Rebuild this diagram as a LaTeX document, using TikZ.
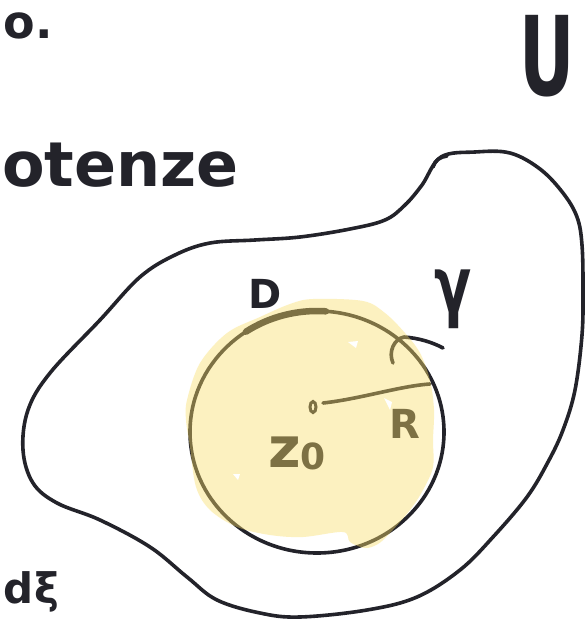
\documentclass[tikz,border=0pt]{standalone}
\usepackage{fontspec}
\setmainfont{DejaVu Sans}
\definecolor{ink}{RGB}{35,35,42}
\definecolor{hl}{RGB}{250,222,105}
\begin{document}
\begin{tikzpicture}[x=1pt,y=-1pt,
  pen/.style={draw=ink,line width=3.6pt,line cap=round,line join=round},
  hand/.style={text=ink,inner sep=0pt,outer sep=0pt},
  marker/.style={fill=hl,fill opacity=0.42,draw=none},
  speck/.style={fill=white,draw=none}]
\useasboundingbox (0,0) rectangle (584,621);
\fill[white] (0,0) rectangle (584,621);
% outer region U
\draw[pen] plot[smooth cycle,tension=0.6] coordinates {
 (441,157) (475,152) (510,153) (540,169) (563,193) (577,217) (582,245)
 (583,290) (582,335) (575,390) (563,430) (548,462) (527,497) (493,537)
 (460,570) (417,597) (367,610) (300,617) (260,613) (217,600) (187,577)
 (150,547) (100,520) (57,503) (33,483) (23,450) (28,410) (50,373)
 (100,320) (140,277) (175,255) (210,243) (255,240) (300,237) (350,229)
 (385,220) (405,205) (422,185) };
\draw[pen] (433,167) .. controls (435,160) and (440,157) .. (447,156);
% disc boundary gamma
\coordinate (c) at (317,432);
\draw[pen] (c) ellipse [x radius=127pt, y radius=121pt];
\draw[draw=ink,line width=6.5pt,line cap=round] (c) ++(124:127pt and 121pt)
  arc[start angle=124,end angle=86,x radius=127pt,y radius=121pt];
% small r-hook
\draw[pen] (393,363) .. controls (388,352) and (394,339) .. (404,337)
  .. controls (418,338) and (432,342) .. (443,348);
% centre and radius
\draw[draw=ink,line width=3pt] (313,407) ellipse [x radius=3pt, y radius=5.5pt];
\draw[pen] (323,403) .. controls (360,399) and (400,386) .. (430,384);
% labels
\node[hand,anchor=base west,font=\bfseries\fontsize{46}{46}\selectfont] (tl) at (4,38) {o.};
\node[hand,anchor=base west,font=\bfseries\fontsize{62}{62}\selectfont] (pot) at (2,186) {otenze};
\node[hand,anchor=base,font=\bfseries\fontsize{110}{110}\selectfont,xscale=0.62] (U) at (547,95) {U};
\node[hand,anchor=base west,font=\bfseries\fontsize{42}{42}\selectfont] (dx) at (4,603) {dξ};
\node[hand,anchor=base,font=\bfseries\fontsize{40}{40}\selectfont] (D) at (265,308) {D};
\node[hand,anchor=base,font=\bfseries\fontsize{78}{78}\selectfont,xscale=0.7] (g) at (453,312) {γ};
\node[hand,anchor=base,font=\bfseries\fontsize{40}{40}\selectfont] (R) at (405,438) {R};
\node[hand,anchor=base west,font=\bfseries\fontsize{56}{56}\selectfont] (z) at (268,467)
  {z\raisebox{-2pt}{\fontsize{36}{36}\selectfont 0}};
% highlighter over the disc
\fill[marker] plot[smooth cycle,tension=0.55] coordinates {
 (187,400) (200,363) (227,333) (260,317) (290,304) (313,299) (363,301)
 (385,313) (405,333) (420,353) (430,380) (434,410) (433,440) (433,467)
 (423,490) (410,510) (390,533) (378,544) (365,548) (350,542) (343,532)
 (303,537) (270,535) (237,527) (210,510) (196,487) (190,447) (186,420) };
\fill[speck] (348,342) -- (358,341) -- (356,348) -- cycle;
\fill[speck] (384,398) -- (392,402) -- (390,410) -- cycle;
\fill[speck] (233,474) -- (240,474) -- (238,480) -- cycle;
\end{tikzpicture}
\end{document}
